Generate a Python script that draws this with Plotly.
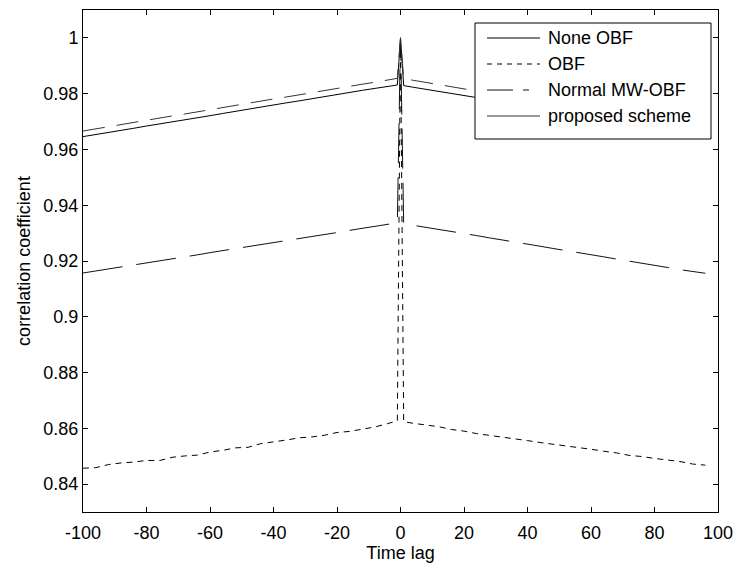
import plotly.graph_objects as go

# Time lag samples (spike at lag 0)
lags = [-100, -96, -92, -88, -84, -80, -76, -72, -68, -64, -60, -56, -52, -48,
        -44, -40, -36, -32, -28, -24, -20, -16, -12, -8, -4, -1, 0, 1,
        4, 8, 12, 16, 20, 24, 28, 32, 36, 40, 44, 48, 52, 56, 60, 64,
        68, 72, 76, 80, 84, 88, 92, 96]

none_obf = [0.9646, 0.9653, 0.9661, 0.9668, 0.9676, 0.9684, 0.9691, 0.9699,
            0.9706, 0.9714, 0.9721, 0.9729, 0.9737, 0.9744, 0.9751, 0.9759,
            0.9767, 0.9774, 0.9782, 0.9789, 0.9797, 0.9804, 0.9812, 0.9819,
            0.9826, 0.9831, 1.0000, 0.9829,
            0.9823, 0.9816, 0.9808, 0.9801, 0.9793, 0.9786, 0.9778, 0.9771,
            0.9763, 0.9755, 0.9748, 0.9740, 0.9733, 0.9725, 0.9718, 0.9710,
            0.9702, 0.9695, 0.9687, 0.9680, 0.9672, 0.9665, 0.9657, 0.9650]

obf = [0.8457, 0.8459, 0.8470, 0.8476, 0.8479, 0.8485, 0.8484, 0.8496,
       0.8501, 0.8504, 0.8515, 0.8521, 0.8530, 0.8532, 0.8545, 0.8551,
       0.8558, 0.8566, 0.8569, 0.8575, 0.8585, 0.8589, 0.8597, 0.8605,
       0.8617, 0.8627, 1.0000, 0.8624,
       0.8618, 0.8611, 0.8606, 0.8596, 0.8590, 0.8581, 0.8575, 0.8570,
       0.8562, 0.8556, 0.8549, 0.8543, 0.8537, 0.8533, 0.8525, 0.8518,
       0.8512, 0.8503, 0.8499, 0.8492, 0.8487, 0.8481, 0.8472, 0.8468]

normal_mw_obf = [0.9157, 0.9164, 0.9171, 0.9179, 0.9186, 0.9193, 0.9200, 0.9208,
                 0.9215, 0.9222, 0.9230, 0.9237, 0.9244, 0.9251, 0.9259, 0.9266,
                 0.9273, 0.9281, 0.9288, 0.9295, 0.9302, 0.9310, 0.9317, 0.9324,
                 0.9331, 0.9337, 1.0000, 0.9334,
                 0.9328, 0.9321, 0.9314, 0.9306, 0.9299, 0.9291, 0.9283, 0.9276,
                 0.9268, 0.9261, 0.9253, 0.9245, 0.9238, 0.9230, 0.9223, 0.9215,
                 0.9207, 0.9200, 0.9192, 0.9185, 0.9177, 0.9169, 0.9162, 0.9156]

proposed = [0.9666, 0.9674, 0.9681, 0.9689, 0.9697, 0.9704, 0.9712, 0.9720,
            0.9727, 0.9735, 0.9742, 0.9750, 0.9758, 0.9765, 0.9773, 0.9781,
            0.9788, 0.9796, 0.9803, 0.9811, 0.9819, 0.9826, 0.9834, 0.9841,
            0.9849, 0.9855, 1.0000, 0.9853,
            0.9848, 0.9840, 0.9832, 0.9825, 0.9817, 0.9810, 0.9802, 0.9794,
            0.9787, 0.9779, 0.9771, 0.9764, 0.9756, 0.9749, 0.9741, 0.9733,
            0.9726, 0.9718, 0.9711, 0.9703, 0.9695, 0.9688, 0.9680, 0.9673]

series_names = ["None OBF", "OBF", "Normal MW-OBF", "proposed scheme"]

x_ticks = [-100, -80, -60, -40, -20, 0, 20, 40, 60, 80, 100]
x_tick_text = ["-100", "-80", "-60", "-40", "-20", "0", "20", "40", "60", "80", "100"]
y_ticks = [0.84, 0.86, 0.88, 0.9, 0.92, 0.94, 0.96, 0.98, 1.0]
y_tick_text = ["0.84", "0.86", "0.88", "0.9", "0.92", "0.94", "0.96", "0.98", "1"]

FONT = "Liberation Sans, Arial, sans-serif"
FS = 18

W, H = 734, 564
ML, MR, MT, MB = 83, 16, 10, 52
PW, PH = W - ML - MR, H - MT - MB


def px_x(px):
    """Pixel column -> paper x."""
    return (px - ML) / PW


def px_y(py):
    """Pixel row -> paper y."""
    return (H - MB - py) / PH


fig = go.Figure()

# Curves: line style per series
styles = [
    ("solid", "#000000", "solid"),
    ("6px,5px", "#000000", "5px,5px"),
    ("40px,14px", "#111111", "26px,10px,6px,12px"),
    ("22px,12px", "#333333", "solid"),
]
for name, vals, (dash, color, _) in zip(series_names,
                                        [none_obf, obf, normal_mw_obf, proposed],
                                        styles):
    fig.add_trace(go.Scatter(x=lags, y=vals, mode="lines", name=name, showlegend=False,
                             line=dict(color=color, width=1, dash=dash)))

# Legend box with key lines and labels
shapes = [dict(type="rect", xref="paper", yref="paper",
               x0=px_x(475), x1=px_x(711), y0=px_y(139), y1=px_y(23),
               line=dict(color="black", width=1), fillcolor="white", layer="above")]
annotations = []
row_y = [38, 64, 90, 116]
for name, (_, color, key_dash), ry in zip(series_names, styles, row_y):
    shapes.append(dict(type="line", xref="paper", yref="paper",
                       x0=px_x(487), x1=px_x(540), y0=px_y(ry), y1=px_y(ry),
                       line=dict(color=color, width=1, dash=key_dash), layer="above"))
    annotations.append(dict(xref="paper", yref="paper", x=px_x(546), y=px_y(ry),
                            xanchor="left", yanchor="middle", text=name, showarrow=False,
                            font=dict(family=FONT, size=FS, color="black")))

axis_common = dict(showline=True, linecolor="black", linewidth=1, mirror="ticks",
                   ticks="inside", ticklen=5, tickcolor="black", showgrid=False,
                   zeroline=False, automargin=False,
                   tickfont=dict(family=FONT, size=FS, color="black"))

fig.update_xaxes(range=[-100, 100], tickvals=x_ticks, ticktext=x_tick_text,
                 ticklabelstandoff=4,
                 title=dict(text="Time lag", font=dict(family=FONT, size=FS, color="black"),
                            standoff=0),
                 **axis_common)
fig.update_yaxes(range=[0.83, 1.01], tickvals=y_ticks, ticktext=y_tick_text,
                 title=dict(text="correlation coefficient",
                            font=dict(family=FONT, size=FS, color="black"), standoff=8),
                 **axis_common)

fig.update_layout(
    width=W, height=H,
    margin=dict(l=ML, r=MR, t=MT, b=MB),
    paper_bgcolor="white", plot_bgcolor="white",
    font=dict(family=FONT, size=FS, color="black"),
    showlegend=False,
    shapes=shapes,
    annotations=annotations,
)

fig.write_html("out.html")
